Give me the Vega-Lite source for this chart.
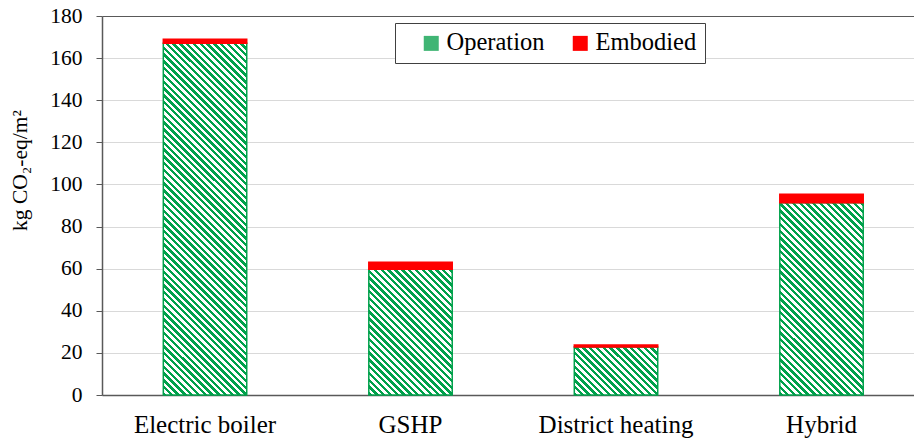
{
"$schema": "https://vega.github.io/schema/vega-lite/v6.json",
"autosize": {"type": "none"},
"padding": {"left": 102, "top": 16, "right": 0, "bottom": 44},
"width": 812,
"height": 379,
"background": "white",
"config": {"view": {"stroke": null}, "font": "Liberation Serif"},
"data": {"values": [
{"cat": "Electric boiler", "type": "Operation", "value": 167},
{"cat": "Electric boiler", "type": "Embodied", "value": 2},
{"cat": "GSHP", "type": "Operation", "value": 59.7},
{"cat": "GSHP", "type": "Embodied", "value": 3.3},
{"cat": "District heating", "type": "Operation", "value": 22.8},
{"cat": "District heating", "type": "Embodied", "value": 0.9},
{"cat": "Hybrid", "type": "Operation", "value": 91.3},
{"cat": "Hybrid", "type": "Embodied", "value": 4.1}
]},
"mark": {"type": "bar", "strokeWidth": 1.5},
"encoding": {
"x": {"field": "cat", "type": "nominal", "sort": ["Electric boiler", "GSHP", "District heating", "Hybrid"],
 "scale": {"paddingInner": 0.594, "paddingOuter": 0.2727, "align": 0.547},
 "axis": {"title": null, "labelAngle": 0, "labelFontSize": 25, "labelColor": "#000", "labelPadding": 17, "ticks": false, "domainColor": "#595959", "domainWidth": 1.5, "labelFont": "Liberation Serif"}},
"y": {"field": "value", "type": "quantitative", "stack": "zero",
 "scale": {"domain": [0, 180], "nice": false},
 "axis": {"title": "kg CO₂-eq/m²", "values": [0, 20, 40, 60, 80, 100, 120, 140, 160, 180], "titleFont": "Liberation Serif", "titleFontSize": 21.5, "titleFontWeight": "normal", "titleColor": "#000", "titleX": -71, "titleY": 154, "titleAngle": -90, "titleBaseline": "bottom", "titleAlign": "center", "labelFont": "Liberation Serif", "labelFontSize": 21.5, "labelColor": "#000", "labelPadding": 14, "tickSize": 6, "tickColor": "#595959", "domainColor": "#595959", "domainWidth": 1.5, "grid": true, "gridColor": {"condition": {"test": "datum.value === 180", "value": "#595959"}, "value": "#d9d9d9"}, "gridWidth": 1.2}},
"order": {"field": "type", "sort": "descending"},
"stroke": {"condition": {"test": "datum.type === 'Operation'", "value": "#00a14b"}, "value": "#ff0000"},
"fill": {"field": "type", "type": "nominal", "sort": ["Operation", "Embodied"],
 "scale": {"domain": ["Operation", "Embodied"], "range": ["#40b574", "#ff0000"]},
 "legend": {"orient": "none", "legendX": 293, "legendY": 7, "direction": "horizontal", "title": null, "padding": 8, "strokeColor": "#404040", "fillColor": "white", "symbolType": "square", "symbolSize": 225, "symbolStrokeWidth": 0, "labelFont": "Liberation Serif", "labelFontSize": 24.5, "labelColor": "#000", "columnPadding": 7, "symbolOffset": 16, "labelOffset": 3},
 "condition": [
 {"test": "datum.type === 'Operation' && datum.cat === 'Electric boiler'", "value": {"gradient": "linear", "x1": 0, "y1": 1, "x2": 0.2778, "y2": -0.1713, "stops": [
{"offset":0,"color":"#00a14b"},{"offset":0.0078,"color":"#00a14b"},
{"offset":0.0078,"color":"#fff"},{"offset":0.0156,"color":"#fff"},
{"offset":0.0156,"color":"#00a14b"},{"offset":0.0234,"color":"#00a14b"},
{"offset":0.0234,"color":"#fff"},{"offset":0.0312,"color":"#fff"},
{"offset":0.0312,"color":"#00a14b"},{"offset":0.039,"color":"#00a14b"},
{"offset":0.039,"color":"#fff"},{"offset":0.0468,"color":"#fff"},
{"offset":0.0468,"color":"#00a14b"},{"offset":0.0546,"color":"#00a14b"},
{"offset":0.0546,"color":"#fff"},{"offset":0.0624,"color":"#fff"},
{"offset":0.0624,"color":"#00a14b"},{"offset":0.0702,"color":"#00a14b"},
{"offset":0.0702,"color":"#fff"},{"offset":0.078,"color":"#fff"},
{"offset":0.078,"color":"#00a14b"},{"offset":0.0858,"color":"#00a14b"},
{"offset":0.0858,"color":"#fff"},{"offset":0.0936,"color":"#fff"},
{"offset":0.0936,"color":"#00a14b"},{"offset":0.1014,"color":"#00a14b"},
{"offset":0.1014,"color":"#fff"},{"offset":0.1092,"color":"#fff"},
{"offset":0.1092,"color":"#00a14b"},{"offset":0.117,"color":"#00a14b"},
{"offset":0.117,"color":"#fff"},{"offset":0.1248,"color":"#fff"},
{"offset":0.1248,"color":"#00a14b"},{"offset":0.1326,"color":"#00a14b"},
{"offset":0.1326,"color":"#fff"},{"offset":0.1404,"color":"#fff"},
{"offset":0.1404,"color":"#00a14b"},{"offset":0.1482,"color":"#00a14b"},
{"offset":0.1482,"color":"#fff"},{"offset":0.156,"color":"#fff"},
{"offset":0.156,"color":"#00a14b"},{"offset":0.1638,"color":"#00a14b"},
{"offset":0.1638,"color":"#fff"},{"offset":0.1716,"color":"#fff"},
{"offset":0.1716,"color":"#00a14b"},{"offset":0.1794,"color":"#00a14b"},
{"offset":0.1794,"color":"#fff"},{"offset":0.1872,"color":"#fff"},
{"offset":0.1872,"color":"#00a14b"},{"offset":0.195,"color":"#00a14b"},
{"offset":0.195,"color":"#fff"},{"offset":0.2028,"color":"#fff"},
{"offset":0.2028,"color":"#00a14b"},{"offset":0.2106,"color":"#00a14b"},
{"offset":0.2106,"color":"#fff"},{"offset":0.2184,"color":"#fff"},
{"offset":0.2184,"color":"#00a14b"},{"offset":0.2262,"color":"#00a14b"},
{"offset":0.2262,"color":"#fff"},{"offset":0.234,"color":"#fff"},
{"offset":0.234,"color":"#00a14b"},{"offset":0.2418,"color":"#00a14b"},
{"offset":0.2418,"color":"#fff"},{"offset":0.2496,"color":"#fff"},
{"offset":0.2496,"color":"#00a14b"},{"offset":0.2574,"color":"#00a14b"},
{"offset":0.2574,"color":"#fff"},{"offset":0.2652,"color":"#fff"},
{"offset":0.2652,"color":"#00a14b"},{"offset":0.273,"color":"#00a14b"},
{"offset":0.273,"color":"#fff"},{"offset":0.2808,"color":"#fff"},
{"offset":0.2808,"color":"#00a14b"},{"offset":0.2886,"color":"#00a14b"},
{"offset":0.2886,"color":"#fff"},{"offset":0.2964,"color":"#fff"},
{"offset":0.2964,"color":"#00a14b"},{"offset":0.3042,"color":"#00a14b"},
{"offset":0.3042,"color":"#fff"},{"offset":0.312,"color":"#fff"},
{"offset":0.312,"color":"#00a14b"},{"offset":0.3198,"color":"#00a14b"},
{"offset":0.3198,"color":"#fff"},{"offset":0.3276,"color":"#fff"},
{"offset":0.3276,"color":"#00a14b"},{"offset":0.3354,"color":"#00a14b"},
{"offset":0.3354,"color":"#fff"},{"offset":0.3432,"color":"#fff"},
{"offset":0.3432,"color":"#00a14b"},{"offset":0.351,"color":"#00a14b"},
{"offset":0.351,"color":"#fff"},{"offset":0.3588,"color":"#fff"},
{"offset":0.3588,"color":"#00a14b"},{"offset":0.3666,"color":"#00a14b"},
{"offset":0.3666,"color":"#fff"},{"offset":0.3744,"color":"#fff"},
{"offset":0.3744,"color":"#00a14b"},{"offset":0.3822,"color":"#00a14b"},
{"offset":0.3822,"color":"#fff"},{"offset":0.39,"color":"#fff"},
{"offset":0.39,"color":"#00a14b"},{"offset":0.3978,"color":"#00a14b"},
{"offset":0.3978,"color":"#fff"},{"offset":0.4056,"color":"#fff"},
{"offset":0.4056,"color":"#00a14b"},{"offset":0.4134,"color":"#00a14b"},
{"offset":0.4134,"color":"#fff"},{"offset":0.4212,"color":"#fff"},
{"offset":0.4212,"color":"#00a14b"},{"offset":0.429,"color":"#00a14b"},
{"offset":0.429,"color":"#fff"},{"offset":0.4368,"color":"#fff"},
{"offset":0.4368,"color":"#00a14b"},{"offset":0.4446,"color":"#00a14b"},
{"offset":0.4446,"color":"#fff"},{"offset":0.4524,"color":"#fff"},
{"offset":0.4524,"color":"#00a14b"},{"offset":0.4602,"color":"#00a14b"},
{"offset":0.4602,"color":"#fff"},{"offset":0.468,"color":"#fff"},
{"offset":0.468,"color":"#00a14b"},{"offset":0.4758,"color":"#00a14b"},
{"offset":0.4758,"color":"#fff"},{"offset":0.4836,"color":"#fff"},
{"offset":0.4836,"color":"#00a14b"},{"offset":0.4914,"color":"#00a14b"},
{"offset":0.4914,"color":"#fff"},{"offset":0.4992,"color":"#fff"},
{"offset":0.4992,"color":"#00a14b"},{"offset":0.507,"color":"#00a14b"},
{"offset":0.507,"color":"#fff"},{"offset":0.5148,"color":"#fff"},
{"offset":0.5148,"color":"#00a14b"},{"offset":0.5226,"color":"#00a14b"},
{"offset":0.5226,"color":"#fff"},{"offset":0.5304,"color":"#fff"},
{"offset":0.5304,"color":"#00a14b"},{"offset":0.5382,"color":"#00a14b"},
{"offset":0.5382,"color":"#fff"},{"offset":0.546,"color":"#fff"},
{"offset":0.546,"color":"#00a14b"},{"offset":0.5538,"color":"#00a14b"},
{"offset":0.5538,"color":"#fff"},{"offset":0.5616,"color":"#fff"},
{"offset":0.5616,"color":"#00a14b"},{"offset":0.5694,"color":"#00a14b"},
{"offset":0.5694,"color":"#fff"},{"offset":0.5772,"color":"#fff"},
{"offset":0.5772,"color":"#00a14b"},{"offset":0.585,"color":"#00a14b"},
{"offset":0.585,"color":"#fff"},{"offset":0.5928,"color":"#fff"},
{"offset":0.5928,"color":"#00a14b"},{"offset":0.6006,"color":"#00a14b"},
{"offset":0.6006,"color":"#fff"},{"offset":0.6084,"color":"#fff"},
{"offset":0.6084,"color":"#00a14b"},{"offset":0.6162,"color":"#00a14b"},
{"offset":0.6162,"color":"#fff"},{"offset":0.624,"color":"#fff"},
{"offset":0.624,"color":"#00a14b"},{"offset":0.6318,"color":"#00a14b"},
{"offset":0.6318,"color":"#fff"},{"offset":0.6396,"color":"#fff"},
{"offset":0.6396,"color":"#00a14b"},{"offset":0.6474,"color":"#00a14b"},
{"offset":0.6474,"color":"#fff"},{"offset":0.6552,"color":"#fff"},
{"offset":0.6552,"color":"#00a14b"},{"offset":0.663,"color":"#00a14b"},
{"offset":0.663,"color":"#fff"},{"offset":0.6708,"color":"#fff"},
{"offset":0.6708,"color":"#00a14b"},{"offset":0.6786,"color":"#00a14b"},
{"offset":0.6786,"color":"#fff"},{"offset":0.6864,"color":"#fff"},
{"offset":0.6864,"color":"#00a14b"},{"offset":0.6942,"color":"#00a14b"},
{"offset":0.6942,"color":"#fff"},{"offset":0.702,"color":"#fff"},
{"offset":0.702,"color":"#00a14b"},{"offset":0.7098,"color":"#00a14b"},
{"offset":0.7098,"color":"#fff"},{"offset":0.7176,"color":"#fff"},
{"offset":0.7176,"color":"#00a14b"},{"offset":0.7254,"color":"#00a14b"},
{"offset":0.7254,"color":"#fff"},{"offset":0.7332,"color":"#fff"},
{"offset":0.7332,"color":"#00a14b"},{"offset":0.741,"color":"#00a14b"},
{"offset":0.741,"color":"#fff"},{"offset":0.7488,"color":"#fff"},
{"offset":0.7488,"color":"#00a14b"},{"offset":0.7566,"color":"#00a14b"},
{"offset":0.7566,"color":"#fff"},{"offset":0.7644,"color":"#fff"},
{"offset":0.7644,"color":"#00a14b"},{"offset":0.7722,"color":"#00a14b"},
{"offset":0.7722,"color":"#fff"},{"offset":0.78,"color":"#fff"},
{"offset":0.78,"color":"#00a14b"},{"offset":0.7878,"color":"#00a14b"},
{"offset":0.7878,"color":"#fff"},{"offset":0.7956,"color":"#fff"},
{"offset":0.7956,"color":"#00a14b"},{"offset":0.8034,"color":"#00a14b"},
{"offset":0.8034,"color":"#fff"},{"offset":0.8112,"color":"#fff"},
{"offset":0.8112,"color":"#00a14b"},{"offset":0.819,"color":"#00a14b"},
{"offset":0.819,"color":"#fff"},{"offset":0.8268,"color":"#fff"},
{"offset":0.8268,"color":"#00a14b"},{"offset":0.8346,"color":"#00a14b"},
{"offset":0.8346,"color":"#fff"},{"offset":0.8424,"color":"#fff"},
{"offset":0.8424,"color":"#00a14b"},{"offset":0.8502,"color":"#00a14b"},
{"offset":0.8502,"color":"#fff"},{"offset":0.858,"color":"#fff"},
{"offset":0.858,"color":"#00a14b"},{"offset":0.8658,"color":"#00a14b"},
{"offset":0.8658,"color":"#fff"},{"offset":0.8736,"color":"#fff"},
{"offset":0.8736,"color":"#00a14b"},{"offset":0.8814,"color":"#00a14b"},
{"offset":0.8814,"color":"#fff"},{"offset":0.8892,"color":"#fff"},
{"offset":0.8892,"color":"#00a14b"},{"offset":0.897,"color":"#00a14b"},
{"offset":0.897,"color":"#fff"},{"offset":0.9048,"color":"#fff"},
{"offset":0.9048,"color":"#00a14b"},{"offset":0.9126,"color":"#00a14b"},
{"offset":0.9126,"color":"#fff"},{"offset":0.9204,"color":"#fff"},
{"offset":0.9204,"color":"#00a14b"},{"offset":0.9282,"color":"#00a14b"},
{"offset":0.9282,"color":"#fff"},{"offset":0.936,"color":"#fff"},
{"offset":0.936,"color":"#00a14b"},{"offset":0.9438,"color":"#00a14b"},
{"offset":0.9438,"color":"#fff"},{"offset":0.9516,"color":"#fff"},
{"offset":0.9516,"color":"#00a14b"},{"offset":0.9594,"color":"#00a14b"},
{"offset":0.9594,"color":"#fff"},{"offset":0.9672,"color":"#fff"},
{"offset":0.9672,"color":"#00a14b"},{"offset":0.975,"color":"#00a14b"},
{"offset":0.975,"color":"#fff"},{"offset":0.9828,"color":"#fff"},
{"offset":0.9828,"color":"#00a14b"},{"offset":0.9906,"color":"#00a14b"},
{"offset":0.9906,"color":"#fff"},{"offset":0.9984,"color":"#fff"},
{"offset":0.9984,"color":"#00a14b"},{"offset":1,"color":"#00a14b"}
 ]}},
 {"test": "datum.type === 'Operation' && datum.cat === 'GSHP'", "value": {"gradient": "linear", "x1": 0, "y1": 1, "x2": 0.7663, "y2": -0.1551, "stops": [
{"offset":0,"color":"#00a14b"},{"offset":0.0163,"color":"#00a14b"},
{"offset":0.0163,"color":"#fff"},{"offset":0.0326,"color":"#fff"},
{"offset":0.0326,"color":"#00a14b"},{"offset":0.0489,"color":"#00a14b"},
{"offset":0.0489,"color":"#fff"},{"offset":0.0652,"color":"#fff"},
{"offset":0.0652,"color":"#00a14b"},{"offset":0.0815,"color":"#00a14b"},
{"offset":0.0815,"color":"#fff"},{"offset":0.0978,"color":"#fff"},
{"offset":0.0978,"color":"#00a14b"},{"offset":0.1141,"color":"#00a14b"},
{"offset":0.1141,"color":"#fff"},{"offset":0.1304,"color":"#fff"},
{"offset":0.1304,"color":"#00a14b"},{"offset":0.1467,"color":"#00a14b"},
{"offset":0.1467,"color":"#fff"},{"offset":0.163,"color":"#fff"},
{"offset":0.163,"color":"#00a14b"},{"offset":0.1793,"color":"#00a14b"},
{"offset":0.1793,"color":"#fff"},{"offset":0.1956,"color":"#fff"},
{"offset":0.1956,"color":"#00a14b"},{"offset":0.2119,"color":"#00a14b"},
{"offset":0.2119,"color":"#fff"},{"offset":0.2282,"color":"#fff"},
{"offset":0.2282,"color":"#00a14b"},{"offset":0.2445,"color":"#00a14b"},
{"offset":0.2445,"color":"#fff"},{"offset":0.2608,"color":"#fff"},
{"offset":0.2608,"color":"#00a14b"},{"offset":0.2771,"color":"#00a14b"},
{"offset":0.2771,"color":"#fff"},{"offset":0.2934,"color":"#fff"},
{"offset":0.2934,"color":"#00a14b"},{"offset":0.3097,"color":"#00a14b"},
{"offset":0.3097,"color":"#fff"},{"offset":0.326,"color":"#fff"},
{"offset":0.326,"color":"#00a14b"},{"offset":0.3423,"color":"#00a14b"},
{"offset":0.3423,"color":"#fff"},{"offset":0.3586,"color":"#fff"},
{"offset":0.3586,"color":"#00a14b"},{"offset":0.3749,"color":"#00a14b"},
{"offset":0.3749,"color":"#fff"},{"offset":0.3912,"color":"#fff"},
{"offset":0.3912,"color":"#00a14b"},{"offset":0.4075,"color":"#00a14b"},
{"offset":0.4075,"color":"#fff"},{"offset":0.4238,"color":"#fff"},
{"offset":0.4238,"color":"#00a14b"},{"offset":0.4401,"color":"#00a14b"},
{"offset":0.4401,"color":"#fff"},{"offset":0.4564,"color":"#fff"},
{"offset":0.4564,"color":"#00a14b"},{"offset":0.4727,"color":"#00a14b"},
{"offset":0.4727,"color":"#fff"},{"offset":0.489,"color":"#fff"},
{"offset":0.489,"color":"#00a14b"},{"offset":0.5053,"color":"#00a14b"},
{"offset":0.5053,"color":"#fff"},{"offset":0.5216,"color":"#fff"},
{"offset":0.5216,"color":"#00a14b"},{"offset":0.5379,"color":"#00a14b"},
{"offset":0.5379,"color":"#fff"},{"offset":0.5542,"color":"#fff"},
{"offset":0.5542,"color":"#00a14b"},{"offset":0.5705,"color":"#00a14b"},
{"offset":0.5705,"color":"#fff"},{"offset":0.5868,"color":"#fff"},
{"offset":0.5868,"color":"#00a14b"},{"offset":0.6031,"color":"#00a14b"},
{"offset":0.6031,"color":"#fff"},{"offset":0.6194,"color":"#fff"},
{"offset":0.6194,"color":"#00a14b"},{"offset":0.6357,"color":"#00a14b"},
{"offset":0.6357,"color":"#fff"},{"offset":0.652,"color":"#fff"},
{"offset":0.652,"color":"#00a14b"},{"offset":0.6683,"color":"#00a14b"},
{"offset":0.6683,"color":"#fff"},{"offset":0.6846,"color":"#fff"},
{"offset":0.6846,"color":"#00a14b"},{"offset":0.7009,"color":"#00a14b"},
{"offset":0.7009,"color":"#fff"},{"offset":0.7172,"color":"#fff"},
{"offset":0.7172,"color":"#00a14b"},{"offset":0.7335,"color":"#00a14b"},
{"offset":0.7335,"color":"#fff"},{"offset":0.7498,"color":"#fff"},
{"offset":0.7498,"color":"#00a14b"},{"offset":0.7661,"color":"#00a14b"},
{"offset":0.7661,"color":"#fff"},{"offset":0.7824,"color":"#fff"},
{"offset":0.7824,"color":"#00a14b"},{"offset":0.7987,"color":"#00a14b"},
{"offset":0.7987,"color":"#fff"},{"offset":0.815,"color":"#fff"},
{"offset":0.815,"color":"#00a14b"},{"offset":0.8313,"color":"#00a14b"},
{"offset":0.8313,"color":"#fff"},{"offset":0.8476,"color":"#fff"},
{"offset":0.8476,"color":"#00a14b"},{"offset":0.8639,"color":"#00a14b"},
{"offset":0.8639,"color":"#fff"},{"offset":0.8802,"color":"#fff"},
{"offset":0.8802,"color":"#00a14b"},{"offset":0.8965,"color":"#00a14b"},
{"offset":0.8965,"color":"#fff"},{"offset":0.9128,"color":"#fff"},
{"offset":0.9128,"color":"#00a14b"},{"offset":0.9291,"color":"#00a14b"},
{"offset":0.9291,"color":"#fff"},{"offset":0.9454,"color":"#fff"},
{"offset":0.9454,"color":"#00a14b"},{"offset":0.9617,"color":"#00a14b"},
{"offset":0.9617,"color":"#fff"},{"offset":0.978,"color":"#fff"},
{"offset":0.978,"color":"#00a14b"},{"offset":0.9943,"color":"#00a14b"},
{"offset":0.9943,"color":"#fff"},{"offset":1,"color":"#fff"}
 ]}},
 {"test": "datum.type === 'Operation' && datum.cat === 'District heating'", "value": {"gradient": "linear", "x1": 0, "y1": 1, "x2": 1.1835, "y2": 0.3188, "stops": [
{"offset":0,"color":"#00a14b"},{"offset":0.0259,"color":"#00a14b"},
{"offset":0.0259,"color":"#fff"},{"offset":0.0518,"color":"#fff"},
{"offset":0.0518,"color":"#00a14b"},{"offset":0.0777,"color":"#00a14b"},
{"offset":0.0777,"color":"#fff"},{"offset":0.1036,"color":"#fff"},
{"offset":0.1036,"color":"#00a14b"},{"offset":0.1295,"color":"#00a14b"},
{"offset":0.1295,"color":"#fff"},{"offset":0.1554,"color":"#fff"},
{"offset":0.1554,"color":"#00a14b"},{"offset":0.1813,"color":"#00a14b"},
{"offset":0.1813,"color":"#fff"},{"offset":0.2072,"color":"#fff"},
{"offset":0.2072,"color":"#00a14b"},{"offset":0.2331,"color":"#00a14b"},
{"offset":0.2331,"color":"#fff"},{"offset":0.259,"color":"#fff"},
{"offset":0.259,"color":"#00a14b"},{"offset":0.2849,"color":"#00a14b"},
{"offset":0.2849,"color":"#fff"},{"offset":0.3108,"color":"#fff"},
{"offset":0.3108,"color":"#00a14b"},{"offset":0.3367,"color":"#00a14b"},
{"offset":0.3367,"color":"#fff"},{"offset":0.3626,"color":"#fff"},
{"offset":0.3626,"color":"#00a14b"},{"offset":0.3885,"color":"#00a14b"},
{"offset":0.3885,"color":"#fff"},{"offset":0.4144,"color":"#fff"},
{"offset":0.4144,"color":"#00a14b"},{"offset":0.4403,"color":"#00a14b"},
{"offset":0.4403,"color":"#fff"},{"offset":0.4662,"color":"#fff"},
{"offset":0.4662,"color":"#00a14b"},{"offset":0.4921,"color":"#00a14b"},
{"offset":0.4921,"color":"#fff"},{"offset":0.518,"color":"#fff"},
{"offset":0.518,"color":"#00a14b"},{"offset":0.5439,"color":"#00a14b"},
{"offset":0.5439,"color":"#fff"},{"offset":0.5698,"color":"#fff"},
{"offset":0.5698,"color":"#00a14b"},{"offset":0.5957,"color":"#00a14b"},
{"offset":0.5957,"color":"#fff"},{"offset":0.6216,"color":"#fff"},
{"offset":0.6216,"color":"#00a14b"},{"offset":0.6475,"color":"#00a14b"},
{"offset":0.6475,"color":"#fff"},{"offset":0.6734,"color":"#fff"},
{"offset":0.6734,"color":"#00a14b"},{"offset":0.6993,"color":"#00a14b"},
{"offset":0.6993,"color":"#fff"},{"offset":0.7252,"color":"#fff"},
{"offset":0.7252,"color":"#00a14b"},{"offset":0.7511,"color":"#00a14b"},
{"offset":0.7511,"color":"#fff"},{"offset":0.777,"color":"#fff"},
{"offset":0.777,"color":"#00a14b"},{"offset":0.8029,"color":"#00a14b"},
{"offset":0.8029,"color":"#fff"},{"offset":0.8288,"color":"#fff"},
{"offset":0.8288,"color":"#00a14b"},{"offset":0.8547,"color":"#00a14b"},
{"offset":0.8547,"color":"#fff"},{"offset":0.8806,"color":"#fff"},
{"offset":0.8806,"color":"#00a14b"},{"offset":0.9065,"color":"#00a14b"},
{"offset":0.9065,"color":"#fff"},{"offset":0.9324,"color":"#fff"},
{"offset":0.9324,"color":"#00a14b"},{"offset":0.9583,"color":"#00a14b"},
{"offset":0.9583,"color":"#fff"},{"offset":0.9842,"color":"#fff"},
{"offset":0.9842,"color":"#00a14b"},{"offset":1,"color":"#00a14b"}
 ]}},
 {"test": "datum.type === 'Operation' && datum.cat === 'Hybrid'", "value": {"gradient": "linear", "x1": 0, "y1": 1, "x2": 0.5236, "y2": -0.2067, "stops": [
{"offset":0,"color":"#00a14b"},{"offset":0.0123,"color":"#00a14b"},
{"offset":0.0123,"color":"#fff"},{"offset":0.0246,"color":"#fff"},
{"offset":0.0246,"color":"#00a14b"},{"offset":0.0369,"color":"#00a14b"},
{"offset":0.0369,"color":"#fff"},{"offset":0.0492,"color":"#fff"},
{"offset":0.0492,"color":"#00a14b"},{"offset":0.0615,"color":"#00a14b"},
{"offset":0.0615,"color":"#fff"},{"offset":0.0738,"color":"#fff"},
{"offset":0.0738,"color":"#00a14b"},{"offset":0.0861,"color":"#00a14b"},
{"offset":0.0861,"color":"#fff"},{"offset":0.0984,"color":"#fff"},
{"offset":0.0984,"color":"#00a14b"},{"offset":0.1107,"color":"#00a14b"},
{"offset":0.1107,"color":"#fff"},{"offset":0.123,"color":"#fff"},
{"offset":0.123,"color":"#00a14b"},{"offset":0.1353,"color":"#00a14b"},
{"offset":0.1353,"color":"#fff"},{"offset":0.1476,"color":"#fff"},
{"offset":0.1476,"color":"#00a14b"},{"offset":0.1599,"color":"#00a14b"},
{"offset":0.1599,"color":"#fff"},{"offset":0.1722,"color":"#fff"},
{"offset":0.1722,"color":"#00a14b"},{"offset":0.1845,"color":"#00a14b"},
{"offset":0.1845,"color":"#fff"},{"offset":0.1968,"color":"#fff"},
{"offset":0.1968,"color":"#00a14b"},{"offset":0.2091,"color":"#00a14b"},
{"offset":0.2091,"color":"#fff"},{"offset":0.2214,"color":"#fff"},
{"offset":0.2214,"color":"#00a14b"},{"offset":0.2337,"color":"#00a14b"},
{"offset":0.2337,"color":"#fff"},{"offset":0.246,"color":"#fff"},
{"offset":0.246,"color":"#00a14b"},{"offset":0.2583,"color":"#00a14b"},
{"offset":0.2583,"color":"#fff"},{"offset":0.2706,"color":"#fff"},
{"offset":0.2706,"color":"#00a14b"},{"offset":0.2829,"color":"#00a14b"},
{"offset":0.2829,"color":"#fff"},{"offset":0.2952,"color":"#fff"},
{"offset":0.2952,"color":"#00a14b"},{"offset":0.3075,"color":"#00a14b"},
{"offset":0.3075,"color":"#fff"},{"offset":0.3198,"color":"#fff"},
{"offset":0.3198,"color":"#00a14b"},{"offset":0.3321,"color":"#00a14b"},
{"offset":0.3321,"color":"#fff"},{"offset":0.3444,"color":"#fff"},
{"offset":0.3444,"color":"#00a14b"},{"offset":0.3567,"color":"#00a14b"},
{"offset":0.3567,"color":"#fff"},{"offset":0.369,"color":"#fff"},
{"offset":0.369,"color":"#00a14b"},{"offset":0.3813,"color":"#00a14b"},
{"offset":0.3813,"color":"#fff"},{"offset":0.3936,"color":"#fff"},
{"offset":0.3936,"color":"#00a14b"},{"offset":0.4059,"color":"#00a14b"},
{"offset":0.4059,"color":"#fff"},{"offset":0.4182,"color":"#fff"},
{"offset":0.4182,"color":"#00a14b"},{"offset":0.4305,"color":"#00a14b"},
{"offset":0.4305,"color":"#fff"},{"offset":0.4428,"color":"#fff"},
{"offset":0.4428,"color":"#00a14b"},{"offset":0.4551,"color":"#00a14b"},
{"offset":0.4551,"color":"#fff"},{"offset":0.4674,"color":"#fff"},
{"offset":0.4674,"color":"#00a14b"},{"offset":0.4797,"color":"#00a14b"},
{"offset":0.4797,"color":"#fff"},{"offset":0.492,"color":"#fff"},
{"offset":0.492,"color":"#00a14b"},{"offset":0.5043,"color":"#00a14b"},
{"offset":0.5043,"color":"#fff"},{"offset":0.5166,"color":"#fff"},
{"offset":0.5166,"color":"#00a14b"},{"offset":0.5289,"color":"#00a14b"},
{"offset":0.5289,"color":"#fff"},{"offset":0.5412,"color":"#fff"},
{"offset":0.5412,"color":"#00a14b"},{"offset":0.5535,"color":"#00a14b"},
{"offset":0.5535,"color":"#fff"},{"offset":0.5658,"color":"#fff"},
{"offset":0.5658,"color":"#00a14b"},{"offset":0.5781,"color":"#00a14b"},
{"offset":0.5781,"color":"#fff"},{"offset":0.5904,"color":"#fff"},
{"offset":0.5904,"color":"#00a14b"},{"offset":0.6027,"color":"#00a14b"},
{"offset":0.6027,"color":"#fff"},{"offset":0.615,"color":"#fff"},
{"offset":0.615,"color":"#00a14b"},{"offset":0.6273,"color":"#00a14b"},
{"offset":0.6273,"color":"#fff"},{"offset":0.6396,"color":"#fff"},
{"offset":0.6396,"color":"#00a14b"},{"offset":0.6519,"color":"#00a14b"},
{"offset":0.6519,"color":"#fff"},{"offset":0.6642,"color":"#fff"},
{"offset":0.6642,"color":"#00a14b"},{"offset":0.6765,"color":"#00a14b"},
{"offset":0.6765,"color":"#fff"},{"offset":0.6888,"color":"#fff"},
{"offset":0.6888,"color":"#00a14b"},{"offset":0.7011,"color":"#00a14b"},
{"offset":0.7011,"color":"#fff"},{"offset":0.7134,"color":"#fff"},
{"offset":0.7134,"color":"#00a14b"},{"offset":0.7257,"color":"#00a14b"},
{"offset":0.7257,"color":"#fff"},{"offset":0.738,"color":"#fff"},
{"offset":0.738,"color":"#00a14b"},{"offset":0.7503,"color":"#00a14b"},
{"offset":0.7503,"color":"#fff"},{"offset":0.7626,"color":"#fff"},
{"offset":0.7626,"color":"#00a14b"},{"offset":0.7749,"color":"#00a14b"},
{"offset":0.7749,"color":"#fff"},{"offset":0.7872,"color":"#fff"},
{"offset":0.7872,"color":"#00a14b"},{"offset":0.7995,"color":"#00a14b"},
{"offset":0.7995,"color":"#fff"},{"offset":0.8118,"color":"#fff"},
{"offset":0.8118,"color":"#00a14b"},{"offset":0.8241,"color":"#00a14b"},
{"offset":0.8241,"color":"#fff"},{"offset":0.8364,"color":"#fff"},
{"offset":0.8364,"color":"#00a14b"},{"offset":0.8487,"color":"#00a14b"},
{"offset":0.8487,"color":"#fff"},{"offset":0.861,"color":"#fff"},
{"offset":0.861,"color":"#00a14b"},{"offset":0.8733,"color":"#00a14b"},
{"offset":0.8733,"color":"#fff"},{"offset":0.8856,"color":"#fff"},
{"offset":0.8856,"color":"#00a14b"},{"offset":0.8979,"color":"#00a14b"},
{"offset":0.8979,"color":"#fff"},{"offset":0.9102,"color":"#fff"},
{"offset":0.9102,"color":"#00a14b"},{"offset":0.9225,"color":"#00a14b"},
{"offset":0.9225,"color":"#fff"},{"offset":0.9348,"color":"#fff"},
{"offset":0.9348,"color":"#00a14b"},{"offset":0.9471,"color":"#00a14b"},
{"offset":0.9471,"color":"#fff"},{"offset":0.9594,"color":"#fff"},
{"offset":0.9594,"color":"#00a14b"},{"offset":0.9717,"color":"#00a14b"},
{"offset":0.9717,"color":"#fff"},{"offset":0.984,"color":"#fff"},
{"offset":0.984,"color":"#00a14b"},{"offset":0.9963,"color":"#00a14b"},
{"offset":0.9963,"color":"#fff"},{"offset":1,"color":"#fff"}
 ]}}
 ]}
}
}
